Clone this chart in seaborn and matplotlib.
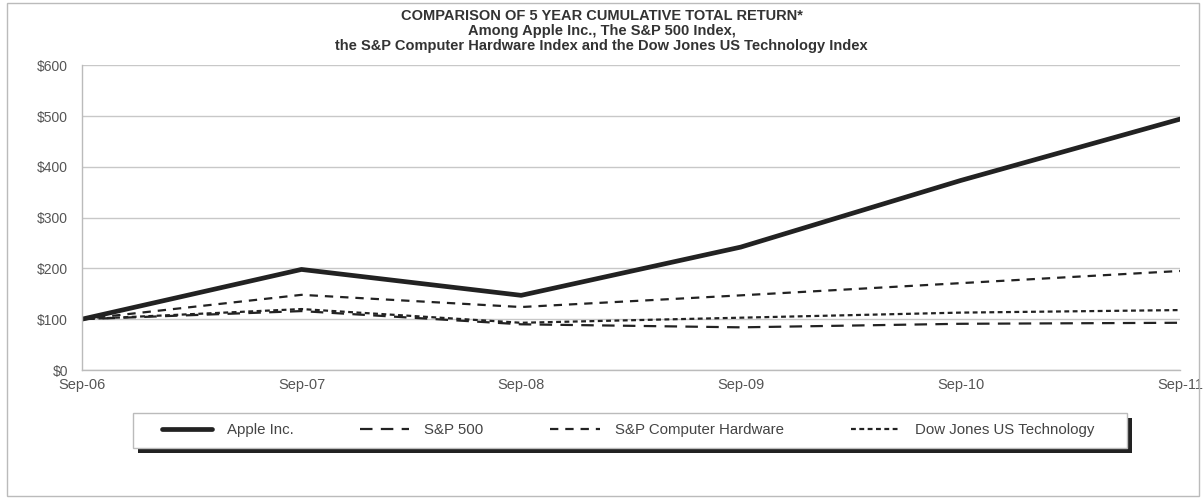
import pandas as pd
import numpy as np
import matplotlib.pyplot as plt
import seaborn as sns
from matplotlib.patches import Rectangle

years = ['Sep-06', 'Sep-07', 'Sep-08', 'Sep-09', 'Sep-10', 'Sep-11']
apple = [100, 198, 147, 242, 373, 494]
sp500 = [100, 116, 90, 84, 91, 93]
hardware = [100, 148, 124, 147, 171, 195]
dowjones = [100, 120, 93, 103, 113, 118]
y_ticks = [0, 100, 200, 300, 400, 500, 600]

series = {
    'Apple Inc.': apple,
    'S&P 500': sp500,
    'S&P Computer Hardware': hardware,
    'Dow Jones US Technology': dowjones,
}

df = pd.DataFrame({'x': np.arange(len(years))})
for name, vals in series.items():
    df[name] = vals

sns.set_theme(style="white")
plt.rcParams['font.family'] = ['Liberation Sans', 'DejaVu Sans']
plt.rcParams['lines.scale_dashes'] = False

fig = plt.figure(figsize=(12.03, 4.98), dpi=100)
ax = fig.add_axes([0.068, 0.257, 0.913, 0.612])

styles = {
    'Apple Inc.': dict(lw=3.4, ls='-'),
    'S&P 500': dict(lw=1.6, ls=(0, (9, 6))),
    'S&P Computer Hardware': dict(lw=1.6, ls=(0, (6, 5))),
    'Dow Jones US Technology': dict(lw=1.6, ls=(0, (3.5, 2.5))),
}
for name in series:
    sns.lineplot(data=df, x='x', y=name, ax=ax, color='#222222',
                 linewidth=styles[name]['lw'], linestyle=styles[name]['ls'],
                 label=name, legend=False)

ax.set_xlim(0, len(years) - 1)
ax.set_ylim(0, 600)
ax.set_xticks(np.arange(len(years)))
ax.set_xticklabels(years)
ax.set_yticks(y_ticks)
ax.set_yticklabels(['${}'.format(v) for v in y_ticks])
ax.set_xlabel('')
ax.set_ylabel('')
ax.yaxis.grid(True, color='#c8c8c8', linewidth=1)
ax.tick_params(axis='y', labelsize=10, colors='#555555', length=5, width=0.8,
               direction='out', pad=5)
ax.tick_params(axis='x', labelsize=10.5, colors='#555555', length=8, width=0.8,
               direction='inout', pad=2)
for side in ['top', 'right']:
    ax.spines[side].set_visible(False)
for side in ['left', 'bottom']:
    ax.spines[side].set_color('#bbbbbb')
    ax.spines[side].set_linewidth(1)

title_lines = ['COMPARISON OF 5 YEAR CUMULATIVE TOTAL RETURN*',
               'Among Apple Inc., The S&P 500 Index,',
               'the S&P Computer Hardware Index and the Dow Jones US Technology Index']
for i, line in enumerate(title_lines):
    fig.text(0.5, 0.968 - i * 0.030, line, ha='center', va='center',
             fontsize=10.5, fontweight='bold', color='#333333')

# legend box with drop shadow
fig.patches.append(Rectangle((0.1147, 0.0904), 0.8263, 0.0703, transform=fig.transFigure,
                             facecolor='#222222', edgecolor='none', zorder=1))
fig.patches.append(Rectangle((0.1106, 0.1004), 0.8263, 0.0703, transform=fig.transFigure,
                             facecolor='white', edgecolor='#bbbbbb', linewidth=1, zorder=2))

leg = fig.legend(loc='center', bbox_to_anchor=(0.1297, 0.1015, 0.785, 0.07), mode='expand',
                 ncol=4, fontsize=10.8, handlelength=3.3, handletextpad=1.0,
                 frameon=False, borderaxespad=0)
for t in leg.get_texts():
    t.set_color('#444444')

fig.patches.append(Rectangle((0.006, 0.004), 0.991, 0.99, transform=fig.transFigure,
                             fill=False, edgecolor='#bbbbbb', linewidth=1))

fig.savefig('out.png', dpi=100)
